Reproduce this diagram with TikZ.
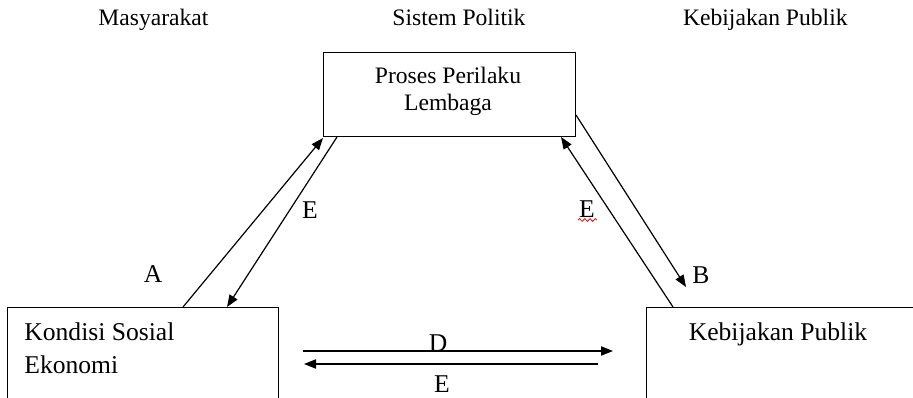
\documentclass[tikz,border=0pt]{standalone}
\usepackage{fontspec}
\setmainfont{Liberation Serif}
\usetikzlibrary{arrows.meta,decorations.pathmorphing}
\begin{document}
\begin{tikzpicture}[x=0.5pt,y=-0.5pt,
  boxnode/.style={draw, line width=0.65pt, inner sep=0pt, anchor=north west},
  txt/.style={inner sep=0pt, font=\fontsize{12.8}{15}\selectfont},
  hdr/.style={inner sep=0pt, font=\fontsize{11.8}{14}\selectfont},
  conn/.style={line width=0.6pt, -{Triangle[length=6pt,width=4.6pt]}},
  spell/.style={red, line width=0.4pt, decorate, decoration={snake, amplitude=0.7pt, segment length=2.6pt}}]
\clip (0,0) rectangle (913,397);
% headers
\node[hdr, anchor=base west] (h1) at (98,25) {Masyarakat};
\node[hdr, anchor=base west] (h2) at (392,25) {Sistem Politik};
\node[hdr, anchor=base east] (h3) at (848,25) {Kebijakan Publik};
% boxes
\node[boxnode, minimum width=126pt, minimum height=42pt] (top) at (323,52) {};
\node[boxnode, minimum width=135.5pt, minimum height=60pt] (left) at (7,307) {};
\node[boxnode, minimum width=150pt, minimum height=60pt] (right) at (646,307) {};
% box texts
\node[hdr, anchor=base] (t1) at (448,83) {Proses Perilaku};
\node[hdr, anchor=base] (t2) at (448,110) {Lembaga};
\node[txt, anchor=base west] (l1) at (24,340) {Kondisi Sosial};
\node[txt, anchor=base west] (l2) at (24,373) {Ekonomi};
\node[txt, anchor=base] (r1) at (778,340) {Kebijakan Publik};
% connector end points
\coordinate (aS) at (183,307);
\coordinate (aE) at (323,138);
\coordinate (eS) at (337,137);
\coordinate (eE) at (227,307);
\coordinate (bS) at (576,115);
\coordinate (bE) at (686,287);
\coordinate (fS) at (673,307);
\coordinate (fE) at (561,137);
\coordinate (dS) at (303,351);
\coordinate (dE) at (613,351);
\coordinate (gS) at (598,364);
\coordinate (gE) at (304,364);
% connectors
\draw[conn] (aS) -- (aE);
\draw[conn] (eS) -- (eE);
\draw[conn] (bS) -- (bE);
\draw[conn] (fS) -- (fE);
\draw[conn] (dS) -- (dE);
\draw[conn] (gS) -- (gE);
% labels
\node[txt] (lA) at (153,274) {A};
\node[txt] (lE1) at (310,210) {E};
\node[txt] (lB) at (701,275) {B};
\node[txt] (lE2) at (587,209) {E};
\node[txt, anchor=base] (lD) at (438,351) {D};
\node[txt] (lE3) at (442,384) {E};
\coordinate (sq1) at (578,220);
\coordinate (sq2) at (597,220);
\draw[spell] (sq1) -- (sq2);
\end{tikzpicture}
\end{document}
